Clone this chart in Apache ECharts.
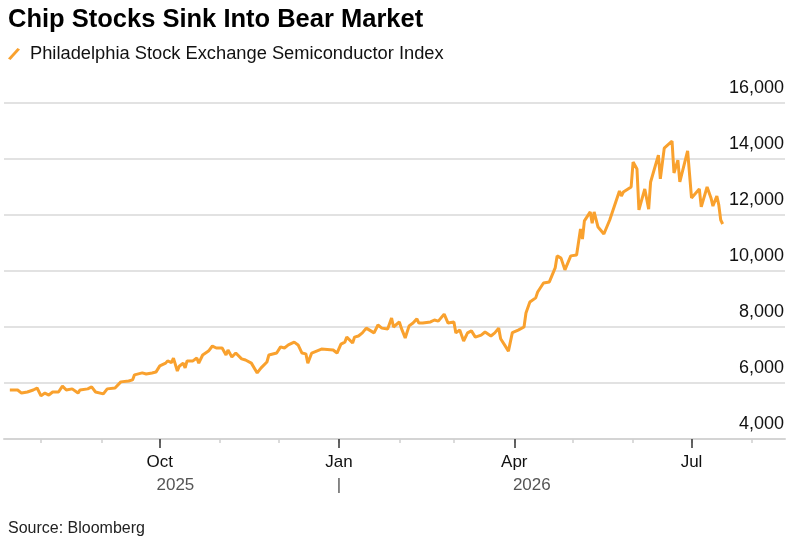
<!DOCTYPE html>
<html>
<head>
<meta charset="utf-8">
<script src="https://cdn.jsdelivr.net/npm/echarts@6/dist/echarts.min.js"></script>
<style>
  html, body { margin: 0; padding: 0; background: #fff; }
  #main { width: 797px; height: 540px; }
</style>
</head>
<body>
<div id="main"></div>
<script>
// daily closes (approx.)
var dates = [
  '2025-07-16', '2025-07-20', '2025-07-22', '2025-07-25', '2025-07-28', '2025-07-30',
  '2025-08-01', '2025-08-03', '2025-08-05', '2025-08-07', '2025-08-10', '2025-08-12',
  '2025-08-14', '2025-08-17', '2025-08-20', '2025-08-21', '2025-08-25', '2025-08-27',
  '2025-08-29', '2025-09-02', '2025-09-04', '2025-09-08', '2025-09-11', '2025-09-15',
  '2025-09-17', '2025-09-18', '2025-09-22', '2025-09-24', '2025-09-27', '2025-09-29',
  '2025-10-01', '2025-10-04', '2025-10-05', '2025-10-07', '2025-10-08', '2025-10-10',
  '2025-10-11', '2025-10-13', '2025-10-14', '2025-10-15', '2025-10-18', '2025-10-20',
  '2025-10-21', '2025-10-23', '2025-10-26', '2025-10-28', '2025-10-30', '2025-11-02',
  '2025-11-04', '2025-11-05', '2025-11-07', '2025-11-09', '2025-11-10', '2025-11-12',
  '2025-11-14', '2025-11-17', '2025-11-20', '2025-11-22', '2025-11-25', '2025-11-26',
  '2025-11-30', '2025-12-02', '2025-12-04', '2025-12-06', '2025-12-09', '2025-12-11',
  '2025-12-13', '2025-12-15', '2025-12-16', '2025-12-18', '2025-12-23', '2025-12-29',
  '2025-12-31', '2026-01-02', '2026-01-04', '2026-01-05', '2026-01-08', '2026-01-09',
  '2026-01-11', '2026-01-13', '2026-01-15', '2026-01-19', '2026-01-21', '2026-01-23',
  '2026-01-26', '2026-01-28', '2026-01-29', '2026-02-01', '2026-02-02', '2026-02-04',
  '2026-02-05', '2026-02-06', '2026-02-08', '2026-02-10', '2026-02-11', '2026-02-13',
  '2026-02-17', '2026-02-19', '2026-02-21', '2026-02-24', '2026-02-26', '2026-03-01',
  '2026-03-02', '2026-03-04', '2026-03-06', '2026-03-08', '2026-03-10', '2026-03-12',
  '2026-03-15', '2026-03-17', '2026-03-18', '2026-03-20', '2026-03-22', '2026-03-24',
  '2026-03-25', '2026-03-27', '2026-03-29', '2026-03-31', '2026-04-03', '2026-04-04',
  '2026-04-06', '2026-04-07', '2026-04-09', '2026-04-12', '2026-04-13', '2026-04-16',
  '2026-04-19', '2026-04-22', '2026-04-23', '2026-04-25', '2026-04-27', '2026-04-30',
  '2026-05-03', '2026-05-04', '2026-05-05', '2026-05-06', '2026-05-07', '2026-05-10',
  '2026-05-11', '2026-05-12', '2026-05-14', '2026-05-17', '2026-05-18', '2026-05-20',
  '2026-05-25', '2026-05-26', '2026-05-27', '2026-05-31', '2026-06-01', '2026-06-03',
  '2026-06-04', '2026-06-07', '2026-06-09', '2026-06-10', '2026-06-14', '2026-06-15',
  '2026-06-17', '2026-06-21', '2026-06-22', '2026-06-23', '2026-06-24', '2026-06-25',
  '2026-06-29', '2026-07-01', '2026-07-05', '2026-07-06', '2026-07-09', '2026-07-11',
  '2026-07-12', '2026-07-14', '2026-07-15', '2026-07-16', '2026-07-17'
];
var values = [
  5750, 5750, 5640, 5680, 5750, 5820,
  5540, 5640, 5570, 5680, 5680, 5890,
  5750, 5790, 5640, 5750, 5790, 5860,
  5680, 5610, 5790, 5820, 6040, 6070,
  6110, 6290, 6360, 6320, 6360, 6390,
  6610, 6710, 6790, 6730, 6890, 6430,
  6600, 6710, 6540, 6790, 6790, 6890,
  6710, 7000, 7140, 7320, 7250, 7250,
  7000, 7180, 6930, 7070, 7140, 6860,
  6820, 6710, 6360, 6540, 6750, 7000,
  7070, 7290, 7250, 7360, 7460, 7360,
  7070, 7040, 6710, 7070, 7210, 7180,
  7070, 7390, 7460, 7640, 7430, 7640,
  7680, 7790, 7960, 7790, 8070, 7960,
  7930, 8320, 8000, 8180, 7960, 7610,
  7640, 8040, 8140, 8290, 8140, 8140,
  8180, 8250, 8210, 8460, 8140, 8180,
  7790, 7890, 7500, 7790, 7860, 7640,
  7710, 7820, 7790, 7680, 7790, 7960,
  7580, 7360, 7140, 7800, 7890, 7930,
  8000, 8500, 8890, 9040, 9250, 9570,
  9610, 10110, 10540, 10460, 10040, 10540,
  10570, 10640, 11500, 11140, 11790, 12110,
  11710, 12110, 11570, 11320, 11320, 11820,
  12860, 12680, 12820, 13000, 13890, 13640,
  12180, 12930, 12210, 13180, 14140, 13290,
  14390, 14640, 13500, 13500, 13960, 13180,
  14290, 12610, 12930, 12290, 13000, 12610,
  12320, 12680, 12360, 11820, 11680
];

var monthTicks = [
  '2025-08-01', '2025-09-01', '2025-10-01', '2025-11-01', '2025-12-01', '2026-01-01',
  '2026-02-01', '2026-03-01', '2026-04-01', '2026-05-01', '2026-06-01', '2026-07-01',
  '2026-08-01'
];
var majorTicks = ['2025-10-01', '2026-01-01', '2026-04-01', '2026-07-01'];
var majorLabels = ['Oct', 'Jan', 'Apr', 'Jul'];
var yearPositions = ['2025-10-09', '2026-01-01', '2026-04-10'];
var yearLabels = ['2025', '|', '2026'];

var yMin = 4000;
var yMax = 16000;
var yStep = 2000;

// dates -> ms timestamps (plain value axis, so custom ticks work cleanly)
function ts(s) {
  var p = s.split('-');
  return Date.UTC(+p[0], p[1] - 1, +p[2]);
}

function lookup(v, list, labels) {
  var best = 0, dist = Infinity;
  for (var i = 0; i < list.length; i++) {
    var d = Math.abs(list[i] - v);
    if (d < dist) { dist = d; best = i; }
  }
  return labels[best];
}

var xMin = ts('2025-07-13');
var xMax = ts('2026-08-18');
var monthTs = monthTicks.map(ts);
var majorTs = majorTicks.map(ts);
var yearTs = yearPositions.map(ts);
var font = 'Liberation Sans, Arial, Helvetica, sans-serif';
var gridGrey = '#d9d9d9';

var chart = echarts.init(document.getElementById('main'), null, { renderer: 'canvas' });

function xBase(extra) {
  var ax = {
    type: 'value',
    position: 'bottom',
    min: xMin,
    max: xMax,
    scale: true,
    axisLine: { show: false },
    axisTick: { show: false },
    axisLabel: { show: false },
    splitLine: { show: false }
  };
  for (var k in extra) ax[k] = extra[k];
  return ax;
}

var option = {
  animation: false,
  backgroundColor: '#fff',
  textStyle: { fontFamily: font },
  title: [{
    text: 'Chip Stocks Sink Into Bear Market',
    left: 3,
    top: 0,
    textStyle: { fontSize: 25.5, fontWeight: 'bold', color: '#000', fontFamily: font, lineHeight: 30 }
  }, {
    text: 'Source: Bloomberg',
    left: 3,
    top: 514,
    textStyle: { fontSize: 16, fontWeight: 'normal', color: '#222', fontFamily: font, lineHeight: 20 }
  }],
  legend: {
    left: 3,
    top: 40,
    itemWidth: 12,
    itemHeight: 13,
    icon: 'path://M0,10.5 L9.5,0 L12,1.5 L2.5,12 Z',
    textStyle: { fontSize: 18.3, color: '#111', fontFamily: font, padding: [0, 0, 0, 5] },
    data: ['Philadelphia Stock Exchange Semiconductor Index']
  },
  grid: {
    left: 4,
    right: 12,
    top: 103,
    bottom: 101,
    containLabel: false,
    outerBoundsMode: 'none'
  },
  xAxis: [
    xBase({
      axisLine: { show: true, lineStyle: { color: '#d4d4d4', width: 2 } },
      axisTick: {
        show: true,
        customValues: monthTs,
        length: 4,
        lineStyle: { color: '#cfcfcf', width: 1.5 }
      }
    }),
    xBase({
      axisTick: {
        show: true,
        customValues: majorTs,
        length: 9,
        lineStyle: { color: '#333', width: 1.5 }
      },
      axisLabel: {
        show: true,
        customValues: majorTs,
        hideOverlap: false,
        margin: 15,
        fontSize: 17,
        color: '#111',
        fontFamily: font,
        formatter: function (v) { return lookup(v, majorTs, majorLabels); }
      }
    }),
    xBase({
      axisLabel: {
        show: true,
        customValues: yearTs,
        hideOverlap: false,
        margin: 38,
        fontSize: 17,
        color: '#555',
        fontFamily: font,
        formatter: function (v) { return lookup(v, yearTs, yearLabels); }
      }
    })
  ],
  yAxis: {
    type: 'value',
    position: 'right',
    min: yMin,
    max: yMax,
    interval: yStep,
    axisLine: { show: false },
    axisTick: { show: false },
    axisLabel: {
      inside: true,
      align: 'right',
      verticalAlign: 'bottom',
      lineHeight: 30,
      margin: 1,
      fontSize: 18,
      color: '#111',
      fontFamily: font,
      formatter: function (v) { return v.toLocaleString('en-US'); }
    },
    splitLine: { show: true, lineStyle: { color: gridGrey, width: 1.5 } }
  },
  series: [{
    name: 'Philadelphia Stock Exchange Semiconductor Index',
    type: 'line',
    xAxisIndex: 0,
    showSymbol: false,
    symbol: 'none',
    color: '#f9a12e',
    lineStyle: { color: '#f9a12e', width: 3 },
    data: dates.map(function (d, i) { return [ts(d), values[i]]; })
  }]
};

chart.setOption(option);
</script>
</body>
</html>
